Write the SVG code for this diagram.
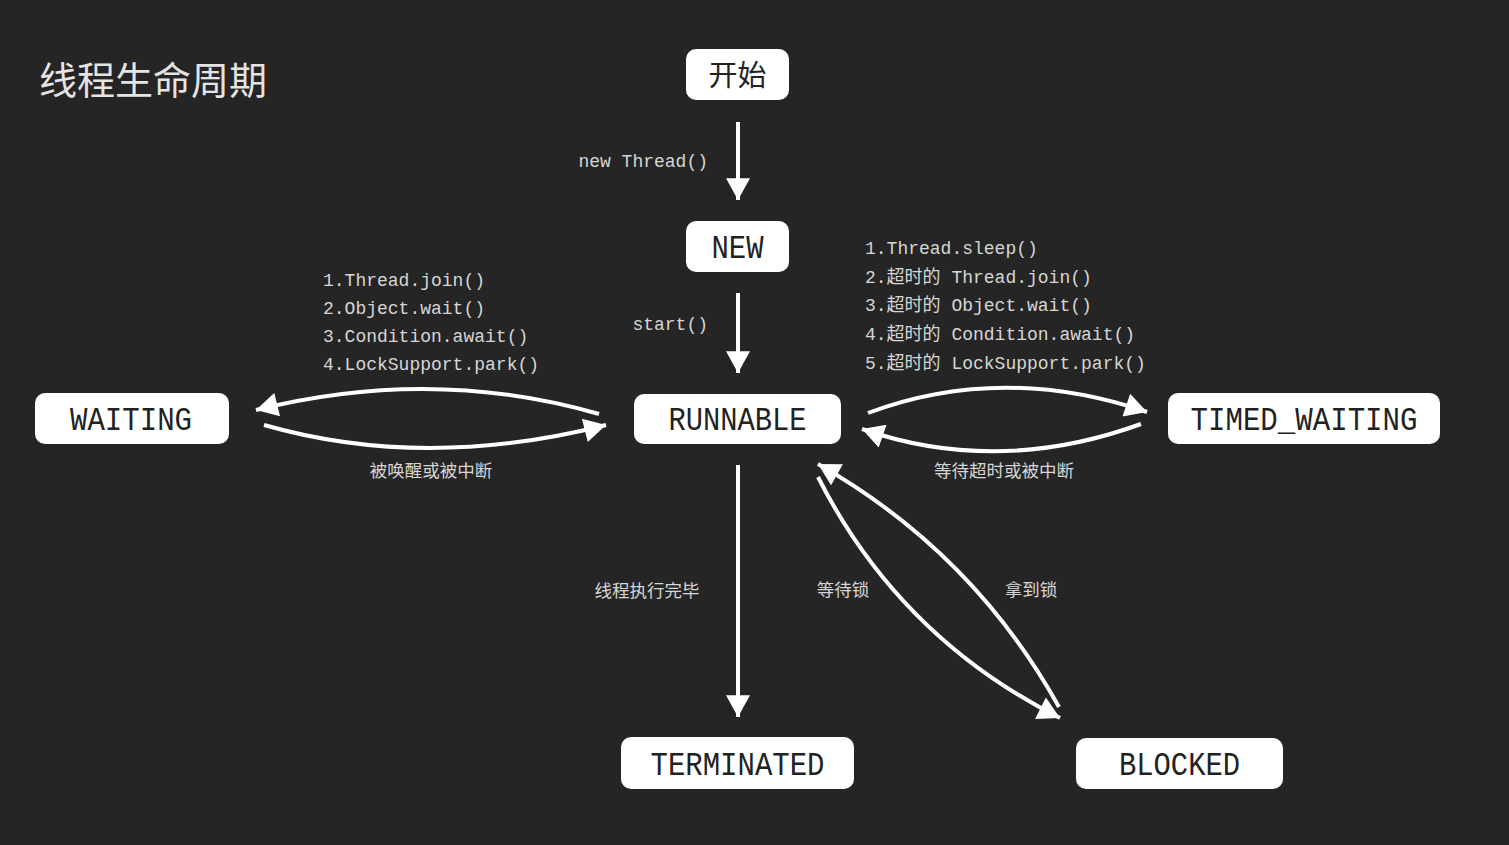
<svg xmlns="http://www.w3.org/2000/svg" width="1509" height="845" viewBox="0 0 1509 845">
<style>
.bg{fill:#252525}
.box{fill:#ffffff}
.nt{font-family:"Liberation Mono","DejaVu Sans Mono",monospace;font-size:34px;fill:#222222;text-anchor:middle}
.cjkn{font-family:"Noto Sans CJK SC",sans-serif;font-size:29px;fill:#222222;text-anchor:middle}
.lbl{font-family:"Liberation Mono","Noto Sans CJK SC",monospace;font-size:18px;fill:#d6d6d6}
.cl{font-family:"Noto Sans CJK SC",sans-serif;font-size:17.5px;fill:#d6d6d6;text-anchor:middle}
.title{font-family:"Noto Sans CJK SC",sans-serif;font-size:38px;fill:#e4e4e4}
.ln{fill:none;stroke:#ffffff;stroke-width:4}
</style>
<defs>
<marker id="ah" markerUnits="userSpaceOnUse" markerWidth="24" markerHeight="24" viewBox="0 0 20 22" refX="20" refY="11" orient="auto">
<path d="M0,0 L20,11 L0,22 Z" fill="#ffffff"/>
</marker>
</defs>
<rect class="bg" x="0" y="0" width="1509" height="845"/>
<text class="title" x="39" y="94">线程生命周期</text>

<g id="connectors">
<line class="ln" x1="738" y1="122" x2="738" y2="200" marker-end="url(#ah)"/>
<line class="ln" x1="738" y1="293" x2="738" y2="373" marker-end="url(#ah)"/>
<line class="ln" x1="738" y1="465" x2="738" y2="717" marker-end="url(#ah)"/>
<path class="ln" d="M599,414 Q432,366 256,410" marker-end="url(#ah)"/>
<path class="ln" d="M264,425 Q425,471 606,425" marker-end="url(#ah)"/>
<path class="ln" d="M868,413 Q1002,363 1147,412" marker-end="url(#ah)"/>
<path class="ln" d="M1141,424 Q998,476 862,429" marker-end="url(#ah)"/>
<path class="ln" d="M818,477 Q899,637 1060,718" marker-end="url(#ah)"/>
<path class="ln" d="M1059,707 Q973,552 818,464" marker-end="url(#ah)"/>
</g>

<g id="labels">
<text class="lbl" x="708" y="167" text-anchor="end">new Thread()</text>
<text class="lbl" x="708" y="330" text-anchor="end">start()</text>
<text class="lbl" x="323" y="286">1.Thread.join()</text>
<text class="lbl" x="323" y="314">2.Object.wait()</text>
<text class="lbl" x="323" y="342">3.Condition.await()</text>
<text class="lbl" x="323" y="370">4.LockSupport.park()</text>
<text class="lbl" x="865" y="254">1.Thread.sleep()</text>
<text class="lbl" x="865" y="283">2.超时的 Thread.join()</text>
<text class="lbl" x="865" y="311">3.超时的 Object.wait()</text>
<text class="lbl" x="865" y="340">4.超时的 Condition.await()</text>
<text class="lbl" x="865" y="369">5.超时的 LockSupport.park()</text>
<text class="cl" x="431" y="477">被唤醒或被中断</text>
<text class="cl" x="1004" y="477">等待超时或被中断</text>
<text class="cl" x="647" y="597">线程执行完毕</text>
<text class="cl" x="843" y="596">等待锁</text>
<text class="cl" x="1031" y="596">拿到锁</text>
</g>

<g id="node-start">
<rect class="box" x="686" y="49" width="103" height="51" rx="10"/>
<text class="cjkn" x="737.5" y="86">开始</text>
</g>
<g id="node-new">
<rect class="box" x="686" y="221" width="103" height="51" rx="10"/>
<text class="nt" x="737.5" y="258" textLength="52" lengthAdjust="spacingAndGlyphs">NEW</text>
</g>
<g id="node-runnable">
<rect class="box" x="634" y="394" width="207" height="50" rx="10"/>
<text class="nt" x="737.5" y="430" textLength="138" lengthAdjust="spacingAndGlyphs">RUNNABLE</text>
</g>
<g id="node-waiting">
<rect class="box" x="35" y="393" width="194" height="51" rx="10"/>
<text class="nt" x="131" y="430" textLength="122" lengthAdjust="spacingAndGlyphs">WAITING</text>
</g>
<g id="node-timed-waiting">
<rect class="box" x="1168" y="393" width="272" height="51" rx="10"/>
<text class="nt" x="1304" y="430" textLength="227" lengthAdjust="spacingAndGlyphs">TIMED_WAITING</text>
</g>
<g id="node-terminated">
<rect class="box" x="621" y="737" width="233" height="52" rx="10"/>
<text class="nt" x="737.5" y="775" textLength="174" lengthAdjust="spacingAndGlyphs">TERMINATED</text>
</g>
<g id="node-blocked">
<rect class="box" x="1076" y="738" width="207" height="51" rx="10"/>
<text class="nt" x="1179.5" y="775" textLength="121" lengthAdjust="spacingAndGlyphs">BLOCKED</text>
</g>
</svg>
